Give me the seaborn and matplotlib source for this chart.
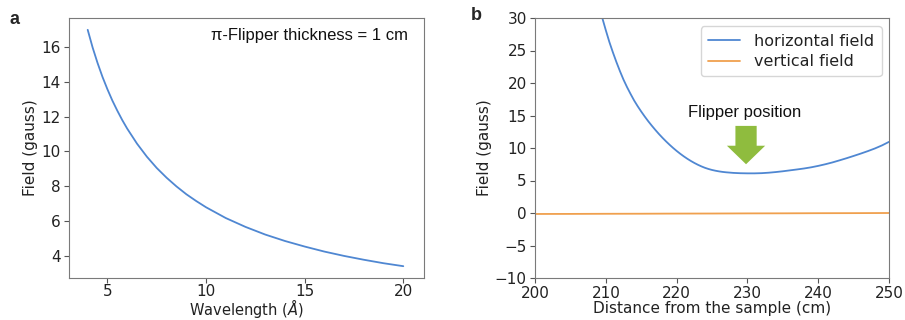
import matplotlib
matplotlib.use("Agg")
import matplotlib.pyplot as plt
import seaborn as sns
import pandas as pd

# ---- data ----
wavelength = [4, 4.25, 4.5, 4.75, 5, 5.25, 5.5, 5.75, 6, 6.5, 7, 7.5, 8,
              8.5, 9, 9.5, 10, 11, 12, 13, 14, 15, 16, 17, 18, 19, 20]
field_a = [17.0, 15.98, 15.09, 14.29, 13.58, 12.93, 12.35, 11.81, 11.32,
           10.45, 9.70, 9.05, 8.49, 7.99, 7.54, 7.15, 6.79, 6.17, 5.66, 5.22,
           4.85, 4.53, 4.24, 3.99, 3.77, 3.57, 3.40]

distance_h = [208.5, 209, 209.5, 210, 210.5, 211, 211.5, 212, 212.5, 213,
              213.5, 214, 214.5, 215, 215.5, 216, 216.5, 217, 217.5, 218,
              218.5, 219, 219.5, 220, 220.5, 221, 221.5, 222, 222.5, 223,
              223.5, 224, 224.5, 225, 225.5, 226, 226.5, 227, 228, 229, 230,
              231, 232, 233, 234, 235, 236, 237, 238, 239, 240, 241, 242,
              243, 244, 245, 246, 247, 248, 249, 250]
horizontal = [34.3, 32.1, 30.0, 28.1, 26.3, 24.7, 23.2, 21.8, 20.5, 19.35,
              18.3, 17.3, 16.42, 15.6, 14.83, 14.1, 13.42, 12.77, 12.15,
              11.57, 11.02, 10.5, 10.01, 9.55, 9.12, 8.72, 8.35, 8.01, 7.7,
              7.42, 7.17, 6.95, 6.77, 6.62, 6.5, 6.4, 6.32, 6.26, 6.17, 6.12,
              6.1, 6.1, 6.13, 6.2, 6.3, 6.42, 6.56, 6.7, 6.85, 7.03, 7.25,
              7.5, 7.78, 8.1, 8.43, 8.78, 9.14, 9.52, 9.93, 10.4, 10.95]
distance_v = [200, 205, 210, 215, 220, 225, 230, 235, 240, 245, 250]
vertical = [-0.15, -0.14, -0.12, -0.11, -0.09, -0.08, -0.06, -0.05, -0.03,
            -0.02, 0.0]

series_labels = ["horizontal field", "vertical field"]
blue = "#4f87d2"
orange = "#f0a04e"
green = "#8fbc3e"

sns.set_style("ticks")
plt.rcParams["font.family"] = ["DejaVu Sans"]
plt.rcParams["axes.edgecolor"] = "#7a7a7a"
plt.rcParams["xtick.color"] = "#555555"
plt.rcParams["ytick.color"] = "#555555"
plt.rcParams["xtick.labelcolor"] = "#222222"
plt.rcParams["ytick.labelcolor"] = "#222222"

fig = plt.figure(figsize=(9.05, 3.2), dpi=100)
ax1 = fig.add_axes([0.0762, 0.13125, 0.3923, 0.8125])
ax2 = fig.add_axes([0.5912, 0.13125, 0.3912, 0.8125])

# ---- panel a ----
df_a = pd.DataFrame({"wl": wavelength, "B": field_a})
sns.lineplot(data=df_a, x="wl", y="B", ax=ax1, color=blue, lw=1.3)
ax1.set_xlim(3.05, 21.05)
ax1.set_xticks([5, 10, 15, 20])
ax1.set_yticks([4, 6, 8, 10, 12, 14, 16])
ax1.tick_params(labelsize=11, length=3.5, width=0.8, pad=2.5)
ax1.tick_params(axis="x", pad=1.0)
ax1.set_xlabel(r"Wavelength ($Å$)", fontsize=10.5, color="#222222",
               labelpad=-1.3)
ax1.set_ylabel("Field (gauss)", fontsize=11, color="#222222", labelpad=2)
ax1.text(0.955, 0.932, "π-Flipper thickness = 1 cm", transform=ax1.transAxes,
         ha="right", va="center", fontsize=12, family="Liberation Sans",
         color="#111111")
fig.text(0.0105, 0.94, "a", fontsize=13, fontweight="bold",
         family="Liberation Sans", va="center")

# ---- panel b ----
df_h = pd.DataFrame({"x": distance_h, "B": horizontal, "s": series_labels[0]})
df_v = pd.DataFrame({"x": distance_v, "B": vertical, "s": series_labels[1]})
df_b = pd.concat([df_h, df_v], ignore_index=True)
sns.lineplot(data=df_b, x="x", y="B", hue="s", ax=ax2,
             palette={series_labels[0]: blue, series_labels[1]: orange},
             lw=1.3)
ax2.set_xlim(200, 250)
ax2.set_ylim(-10, 30)
ax2.set_xticks([200, 210, 220, 230, 240, 250])
ax2.set_yticks([-10, -5, 0, 5, 10, 15, 20, 25, 30])
ax2.set_xlabel("Distance from the sample (cm)", fontsize=11, color="#222222",
               labelpad=-0.5)
ax2.set_ylabel("Field (gauss)", fontsize=11, color="#222222", labelpad=2)
ax2.tick_params(labelsize=11, length=3.5, width=0.8, pad=2.5)
leg = ax2.legend(loc="upper right", fontsize=11.5, frameon=True,
                 bbox_to_anchor=(0.979, 0.968), borderaxespad=0,
                 borderpad=0.45, handletextpad=0.9, labelspacing=0.35)
leg.set_title(None)
for t in leg.get_texts():
    t.set_color("#222222")
ax2.arrow(229.8, 13.4, 0, -5.9, width=3.0, head_width=5.4, head_length=2.85,
          length_includes_head=True, color=green, ec="none", zorder=3)
ax2.text(229.6, 15.4, "Flipper position", ha="center", va="center",
         fontsize=12, family="Liberation Sans", color="#111111")
fig.text(0.5205, 0.95, "b", fontsize=13, fontweight="bold",
         family="Liberation Sans", va="center")

fig.savefig("out.png", dpi=100)
